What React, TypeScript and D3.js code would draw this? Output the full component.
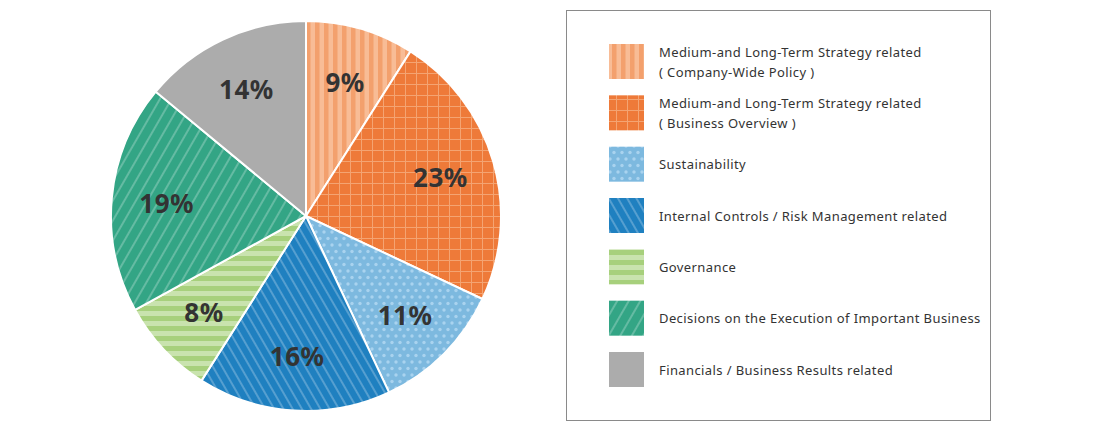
import * as d3 from "d3";

const categories = [
  ["Medium-and Long-Term Strategy related", "( Company-Wide Policy )"],
  ["Medium-and Long-Term Strategy related", "( Business Overview )"],
  ["Sustainability"],
  ["Internal Controls / Risk Management related"],
  ["Governance"],
  ["Decisions on the Execution of Important Business"],
  ["Financials / Business Results related"],
];
const shares = [9, 23, 11, 16, 8, 19, 14];
const patternIds = ["p-vstripe", "p-grid", "p-dots", "p-back", "p-hstripe", "p-fwd", "p-gray"];

const W = 1120;
const H = 432;
const cx = 306;
const cy = 216;
const R = 195;

function Patterns() {
  return (
    <defs>
      <pattern id="p-vstripe" patternUnits="userSpaceOnUse" width="9" height="10">
        <rect width="9" height="10" fill="#f8bc96" />
        <rect width="4.5" height="10" fill="#f3a06d" />
      </pattern>
      <pattern id="p-grid" patternUnits="userSpaceOnUse" width="11" height="11">
        <rect width="11" height="11" fill="#ee7a39" />
        <path d="M0 0.5H11M0.5 0V11" stroke="#f4a472" strokeWidth="1" />
      </pattern>
      <pattern id="p-dots" patternUnits="userSpaceOnUse" width="8" height="13">
        <rect width="8" height="13" fill="#7db9df" />
        <circle cx="2" cy="3" r="1.7" fill="#a9d3ef" />
        <circle cx="6" cy="9.5" r="1.7" fill="#a9d3ef" />
      </pattern>
      <pattern id="p-back" patternUnits="userSpaceOnUse" width="8" height="10" patternTransform="rotate(-30)">
        <rect width="8" height="10" fill="#1f80c0" />
        <line x1="4" y1="0" x2="4" y2="10" stroke="rgba(255,255,255,0.55)" strokeWidth="0.9" />
      </pattern>
      <pattern id="p-hstripe" patternUnits="userSpaceOnUse" width="10" height="10">
        <rect width="10" height="10" fill="#c9e3ae" />
        <rect width="10" height="5" fill="#a7d07c" />
      </pattern>
      <pattern id="p-fwd" patternUnits="userSpaceOnUse" width="10" height="10" patternTransform="rotate(30)">
        <rect width="10" height="10" fill="#33a585" />
        <line x1="5" y1="0" x2="5" y2="10" stroke="rgba(255,255,255,0.55)" strokeWidth="0.9" />
      </pattern>
      <pattern id="p-gray" patternUnits="userSpaceOnUse" width="10" height="10">
        <rect width="10" height="10" fill="#acacac" />
      </pattern>
    </defs>
  );
}

export default function App() {
  const pie = d3.pie<number>().sort(null).value((d) => d);
  const arcs = pie(shares);
  const arc = d3.arc<d3.PieArcDatum<number>>().innerRadius(0).outerRadius(R);
  const labelArc = d3.arc<d3.PieArcDatum<number>>().innerRadius(280).outerRadius(0);

  const legendY = d3
    .scalePoint<number>()
    .domain(d3.range(categories.length))
    .range([61.5, 369.5]);

  return (
    <svg
      width={W}
      height={H}
      style={{ position: "absolute", left: 0, top: 0, background: "#fff" }}
      fontFamily="'Noto Sans', sans-serif"
    >
      <Patterns />
      <g transform={`translate(${cx},${cy})`}>
        {arcs.map((a, i) => (
          <path key={i} d={arc(a)!} fill={`url(#${patternIds[i]})`} stroke="#fff" strokeWidth={2} />
        ))}
        {arcs.map((a, i) => {
          const [x, y] = labelArc.centroid(a);
          return (
            <text
              key={i}
              x={x}
              y={y}
              textAnchor="middle"
              dominantBaseline="central"
              fontSize={26}
              fontWeight="bold"
              letterSpacing={0.5}
              fill="#333"
            >
              {shares[i]}%
            </text>
          );
        })}
      </g>
      <rect x={566.5} y={10.5} width={424} height={410} fill="none" stroke="#8a8a8a" strokeWidth={1} />
      {categories.map((lines, i) => {
        const y = legendY(i)!;
        return (
          <g key={i}>
            <rect x={609} y={y - 17.5} width={35} height={35} fill={`url(#${patternIds[i]})`} />
            {lines.map((t, j) => (
              <text
                key={j}
                x={659}
                y={y + (j - (lines.length - 1) / 2) * 20}
                dominantBaseline="central"
                fontSize={13}
                letterSpacing={0.4}
                fill="#333"
              >
                {t}
              </text>
            ))}
          </g>
        );
      })}
    </svg>
  );
}
